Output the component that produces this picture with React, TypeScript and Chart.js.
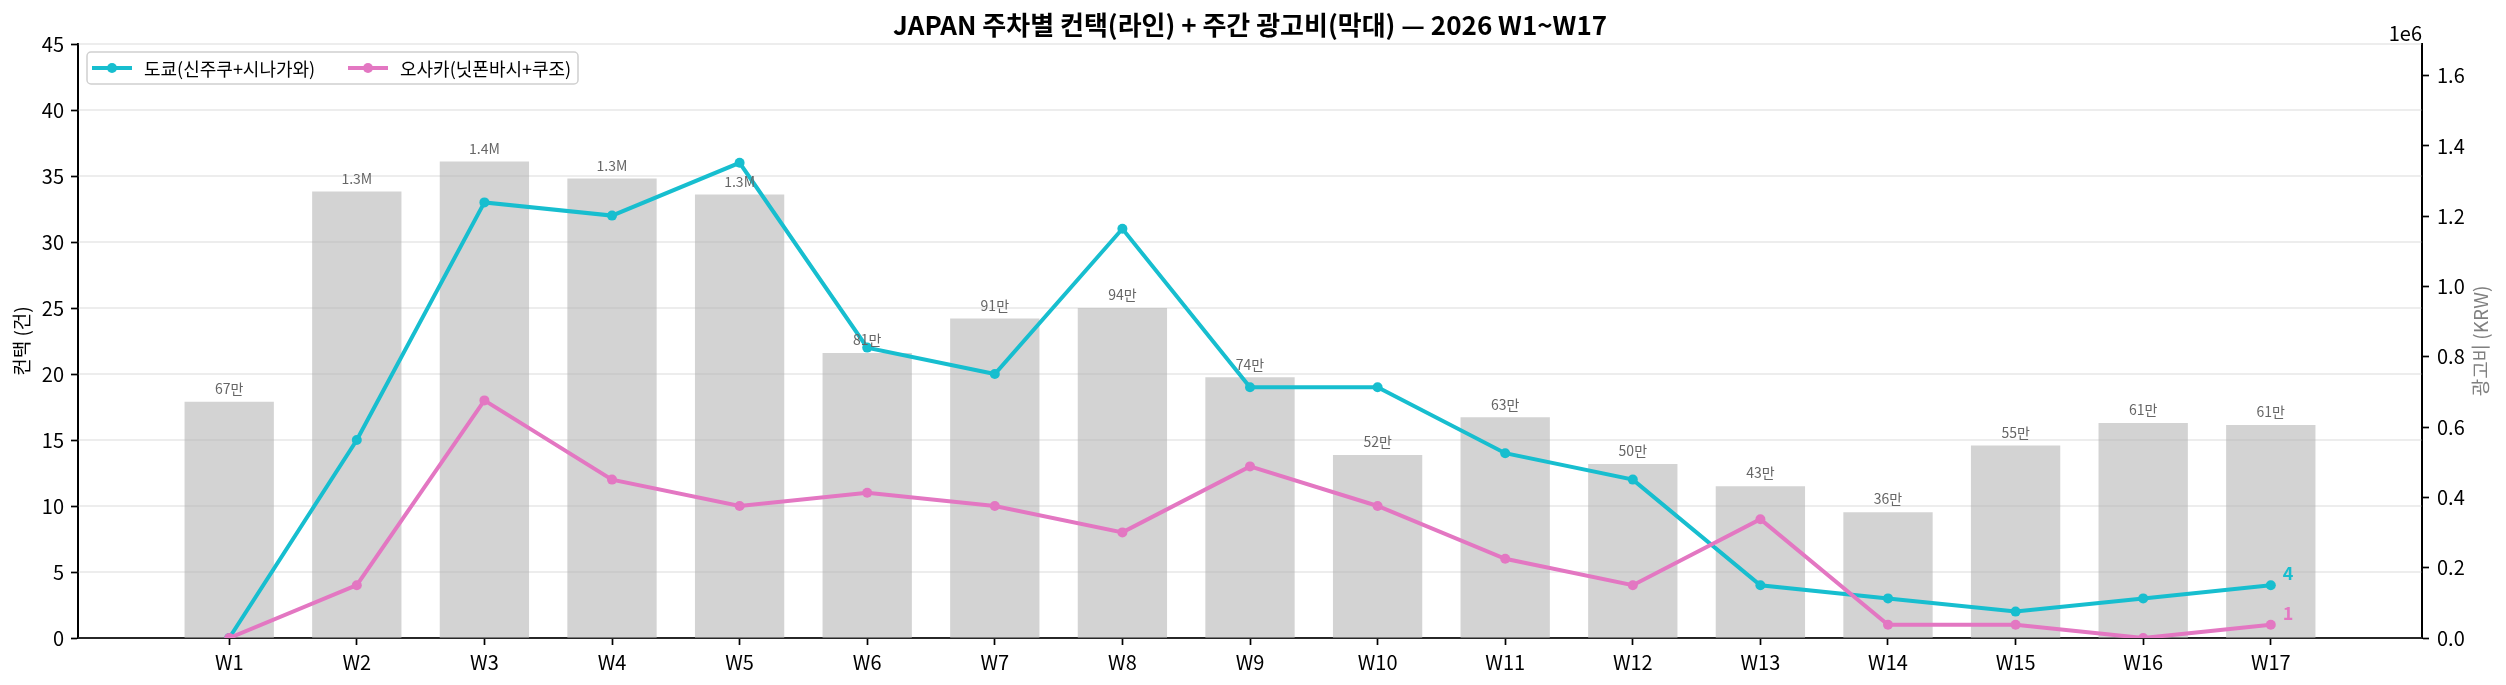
import React, { useEffect, useRef } from 'react';
import Chart from 'chart.js/auto';

const weeks = ['W1', 'W2', 'W3', 'W4', 'W5', 'W6', 'W7', 'W8', 'W9', 'W10', 'W11', 'W12', 'W13', 'W14', 'W15', 'W16', 'W17'];
const tokyoContacts = [0, 15, 33, 32, 36, 22, 20, 31, 19, 19, 14, 12, 4, 3, 2, 3, 4];
const osakaContacts = [0, 4, 18, 12, 10, 11, 10, 8, 13, 10, 6, 4, 9, 1, 1, 0, 1];
const weeklySpend = [
    672000, 1270000, 1356000, 1307000, 1262000, 811000, 909000, 939000, 742000,
    521000, 628000, 495000, 432000, 358000, 548000, 612000, 606000,
];
const leftTicks = [0, 5, 10, 15, 20, 25, 30, 35, 40, 45];
const rightTicks = [0, 200000, 400000, 600000, 800000, 1000000, 1200000, 1400000, 1600000];

const TOKYO = '#17becf';
const OSAKA = '#e377c2';
const FONT = '"Noto Sans CJK KR", "Noto Sans", sans-serif';

const TITLE = 'JAPAN 주차별 컨택(라인) + 주간 광고비(막대) — 2026 W1~W17';
const TOKYO_LABEL = '도쿄(신주쿠+시나가와)';
const OSAKA_LABEL = '오사카(닛폰바시+쿠조)';

const formatSpend = (v: number) => (v >= 1e6 ? `${(v / 1e6).toFixed(1)}M` : `${Math.round(v / 1e4)}만`);

// grid goes above the bars but under the lines, like the twin-axis original
const gridPlugin = {
    id: 'gridAfterBars',
    afterDatasetDraw(chart: any, args: any) {
        if (args.index !== 0) return;
        const { ctx, chartArea } = chart;
        const y = chart.scales.y;
        ctx.save();
        ctx.strokeStyle = 'rgba(176,176,176,0.3)';
        ctx.lineWidth = 1.7;
        leftTicks.forEach(t => {
            const py = y.getPixelForValue(t);
            ctx.beginPath();
            ctx.moveTo(chartArea.left, py);
            ctx.lineTo(chartArea.right, py);
            ctx.stroke();
        });
        ctx.restore();
    },
};

const decorPlugin = {
    id: 'decor',
    afterDraw(chart: any) {
        const { ctx, chartArea } = chart;
        const x = chart.scales.x;
        const y = chart.scales.y;
        const y2 = chart.scales.y2;
        ctx.save();

        // title
        ctx.fillStyle = '#000';
        ctx.font = `bold 26px ${FONT}`;
        ctx.textAlign = 'center';
        ctx.textBaseline = 'middle';
        ctx.fillText(TITLE, (chartArea.left + chartArea.right) / 2, 25);

        // axis titles
        ctx.font = `19px ${FONT}`;
        ctx.save();
        ctx.translate(22, (chartArea.top + chartArea.bottom) / 2);
        ctx.rotate(-Math.PI / 2);
        ctx.fillStyle = '#000';
        ctx.fillText('컨택 (건)', 0, 0);
        ctx.restore();
        ctx.save();
        ctx.translate(2481, (chartArea.top + chartArea.bottom) / 2);
        ctx.rotate(-Math.PI / 2);
        ctx.fillStyle = '#808080';
        ctx.fillText('광고비 (KRW)', 0, 0);
        ctx.restore();

        // offset text
        ctx.font = `20px ${FONT}`;
        ctx.fillStyle = '#000';
        ctx.textAlign = 'right';
        ctx.textBaseline = 'alphabetic';
        ctx.fillText('1e6', chartArea.right, 41);

        // bar value labels
        ctx.font = `14px ${FONT}`;
        ctx.fillStyle = '#666';
        ctx.textAlign = 'center';
        ctx.textBaseline = 'bottom';
        weeklySpend.forEach((v, i) => {
            ctx.fillText(formatSpend(v), x.getPixelForValue(i), y2.getPixelForValue(v) - 6);
        });

        // end labels
        const last = weeks.length - 1;
        ctx.font = `bold 18px ${FONT}`;
        ctx.textAlign = 'left';
        ctx.textBaseline = 'middle';
        ctx.fillStyle = TOKYO;
        ctx.fillText(String(tokyoContacts[last]), x.getPixelForValue(last) + 12, y.getPixelForValue(tokyoContacts[last]) - 12);
        ctx.fillStyle = OSAKA;
        ctx.fillText(String(osakaContacts[last]), x.getPixelForValue(last) + 12, y.getPixelForValue(osakaContacts[last]) - 12);

        // legend box
        const lx = 87, ly = 52, lw = 491, lh = 32;
        ctx.fillStyle = 'rgba(255,255,255,0.8)';
        ctx.strokeStyle = '#d0d0d0';
        ctx.lineWidth = 1.5;
        ctx.beginPath();
        ctx.roundRect(lx, ly, lw, lh, 4);
        ctx.fill();
        ctx.stroke();
        const entries = [
            { label: TOKYO_LABEL, color: TOKYO, x0: 92 },
            { label: OSAKA_LABEL, color: OSAKA, x0: 348 },
        ];
        const cy = ly + lh / 2;
        ctx.font = `18px ${FONT}`;
        ctx.textBaseline = 'middle';
        entries.forEach(e => {
            ctx.strokeStyle = e.color;
            ctx.lineWidth = 4;
            ctx.beginPath();
            ctx.moveTo(e.x0, cy);
            ctx.lineTo(e.x0 + 40, cy);
            ctx.stroke();
            ctx.fillStyle = e.color;
            ctx.beginPath();
            ctx.arc(e.x0 + 20, cy, 5, 0, Math.PI * 2);
            ctx.fill();
            ctx.fillStyle = '#000';
            ctx.fillText(e.label, e.x0 + 52, cy + 1);
        });

        ctx.restore();
    },
};

const App: React.FC = () => {
    const chartRef = useRef<HTMLCanvasElement>(null);
    const chartInstance = useRef<Chart | null>(null);

    useEffect(() => {
        if (!chartRef.current) return;
        if (chartInstance.current) chartInstance.current.destroy();
        const ctx = chartRef.current.getContext('2d');
        if (!ctx) return;

        const tickFont = { family: FONT, size: 20 };

        chartInstance.current = new Chart(ctx, {
            type: 'bar',
            data: {
                datasets: [
                    {
                        type: 'bar',
                        label: '광고비',
                        data: weeklySpend.map((v, i) => ({ x: i, y: v })),
                        backgroundColor: '#d3d3d3',
                        yAxisID: 'y2',
                        categoryPercentage: 1,
                        barPercentage: 0.7,
                        order: 2,
                    },
                    {
                        type: 'line',
                        label: TOKYO_LABEL,
                        data: tokyoContacts.map((v, i) => ({ x: i, y: v })),
                        borderColor: TOKYO,
                        backgroundColor: TOKYO,
                        borderWidth: 4,
                        pointRadius: 5,
                        pointBorderWidth: 0,
                        pointBackgroundColor: TOKYO,
                        tension: 0,
                        yAxisID: 'y',
                        order: 1,
                    },
                    {
                        type: 'line',
                        label: OSAKA_LABEL,
                        data: osakaContacts.map((v, i) => ({ x: i, y: v })),
                        borderColor: OSAKA,
                        backgroundColor: OSAKA,
                        borderWidth: 4,
                        pointRadius: 5,
                        pointBorderWidth: 0,
                        pointBackgroundColor: OSAKA,
                        tension: 0,
                        yAxisID: 'y',
                        order: 0,
                    },
                ] as any,
            },
            options: {
                responsive: false,
                animation: false,
                devicePixelRatio: 1,
                layout: { padding: { top: 44, left: 0, right: 0, bottom: 0 } },
                plugins: { legend: { display: false }, tooltip: { enabled: false }, title: { display: false } },
                scales: {
                    x: {
                        type: 'linear',
                        offset: false,
                        min: -1.185,
                        max: 17.185,
                        afterBuildTicks: (axis: any) => {
                            axis.ticks = weeks.map((_, i) => ({ value: i }));
                        },
                        afterFit: (scale: any) => {
                            scale.height = 47;
                        },
                        grid: { offset: false, drawOnChartArea: false, drawTicks: true, tickLength: 7, tickColor: '#000', tickWidth: 1.7 },
                        border: { display: true, color: '#000', width: 2 },
                        ticks: {
                            autoSkip: false,
                            maxRotation: 0,
                            padding: 5,
                            color: '#000',
                            font: tickFont,
                            callback: (v: any) => weeks[v as number] ?? '',
                        },
                    },
                    y: {
                        type: 'linear',
                        position: 'left',
                        min: 0,
                        max: 45,
                        afterBuildTicks: (axis: any) => {
                            axis.ticks = leftTicks.map(v => ({ value: v }));
                        },
                        afterFit: (scale: any) => {
                            scale.width = 78;
                        },
                        grid: { drawOnChartArea: false, drawTicks: true, tickLength: 7, tickColor: '#000', tickWidth: 1.7 },
                        border: { display: true, color: '#000', width: 2 },
                        ticks: { padding: 7, color: '#000', font: tickFont },
                    },
                    y2: {
                        type: 'linear',
                        position: 'right',
                        min: 0,
                        max: 1690000,
                        afterBuildTicks: (axis: any) => {
                            axis.ticks = rightTicks.map(v => ({ value: v }));
                        },
                        afterFit: (scale: any) => {
                            scale.width = 84;
                        },
                        grid: { drawOnChartArea: false, drawTicks: true, tickLength: 7, tickColor: '#000', tickWidth: 1.7 },
                        border: { display: true, color: '#000', width: 2 },
                        ticks: {
                            padding: 8,
                            color: '#000',
                            font: tickFont,
                            callback: (v: any) => ((v as number) / 1e6).toFixed(1),
                        },
                    },
                },
            } as any,
            plugins: [gridPlugin, decorPlugin],
        });

        return () => {
            if (chartInstance.current) {
                chartInstance.current.destroy();
                chartInstance.current = null;
            }
        };
    }, []);

    return (
        <div style={{ position: 'absolute', left: 0, top: 0, width: 2506, height: 685, background: '#fff' }}>
            <canvas ref={chartRef} width={2506} height={685}></canvas>
        </div>
    );
};

export default App;
